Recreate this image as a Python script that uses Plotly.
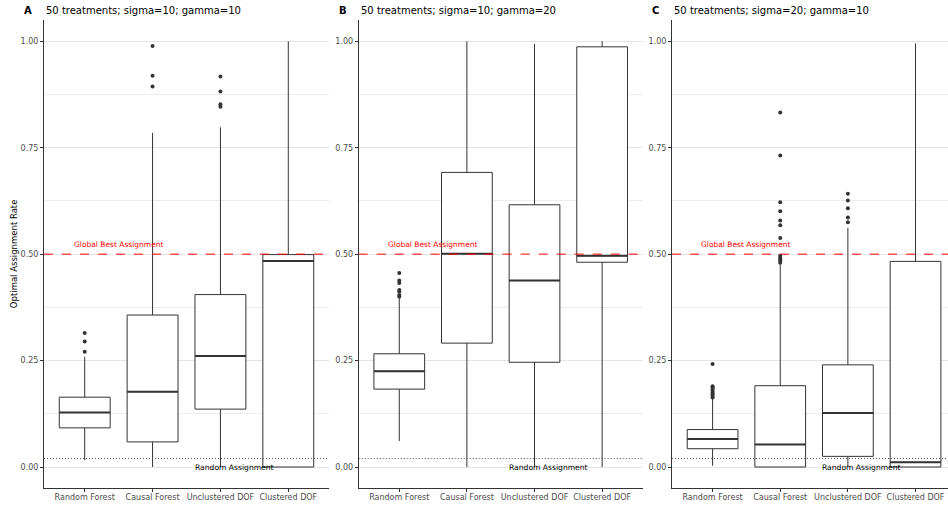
import plotly.graph_objects as go

categories = ["Random Forest", "Causal Forest", "Unclustered DOF", "Clustered DOF"]
panel_tags = ["A", "B", "C"]
panel_titles = [
    "50 treatments; sigma=10; gamma=10",
    "50 treatments; sigma=10; gamma=20",
    "50 treatments; sigma=20; gamma=10",
]
y_ticks = [0.0, 0.25, 0.5, 0.75, 1.0]
y_tick_labels = ["0.00", "0.25", "0.50", "0.75", "1.00"]

# Panel A: sigma=10, gamma=10
a_lower = [0.016, 0.0, 0.0, 0.0]
a_q1 = [0.092, 0.059, 0.136, 0.0]
a_median = [0.128, 0.177, 0.261, 0.484]
a_q3 = [0.164, 0.357, 0.405, 0.499]
a_upper = [0.259, 0.785, 0.798, 1.0]
a_outliers = [[0.271, 0.295, 0.315], [0.894, 0.919, 0.989], [0.846, 0.852, 0.882, 0.917], []]

# Panel B: sigma=10, gamma=20
b_lower = [0.061, 0.0, 0.0, 0.0]
b_q1 = [0.183, 0.291, 0.246, 0.481]
b_median = [0.225, 0.501, 0.438, 0.496]
b_q3 = [0.266, 0.692, 0.616, 0.987]
b_upper = [0.396, 1.0, 0.994, 1.0]
b_outliers = [[0.400, 0.404, 0.412, 0.416, 0.432, 0.438, 0.456], [], [], []]

# Panel C: sigma=20, gamma=10
c_lower = [0.003, 0.0, 0.0, 0.0]
c_q1 = [0.043, 0.0, 0.025, 0.0]
c_median = [0.066, 0.053, 0.127, 0.011]
c_q3 = [0.088, 0.191, 0.240, 0.483]
c_upper = [0.160, 0.476, 0.562, 0.995]
c_outliers = [
    [0.163, 0.167, 0.171, 0.175, 0.179, 0.183, 0.187, 0.190, 0.242],
    [0.480, 0.484, 0.488, 0.492, 0.496, 0.538, 0.568, 0.579, 0.601, 0.622, 0.732, 0.833],
    [0.575, 0.586, 0.608, 0.626, 0.642],
    [],
]

global_best = 0.5
random_assignment = 0.02

panels = [
    (a_lower, a_q1, a_median, a_q3, a_upper, a_outliers),
    (b_lower, b_q1, b_median, b_q3, b_upper, b_outliers),
    (c_lower, c_q1, c_median, c_q3, c_upper, c_outliers),
]

W, H = 948, 506
x_domains = [(44 / W, 329 / W), (358.7 / W, 642.7 / W), (672 / W, 1.0)]
x_ranges = [[0.4, 4.6], [0.4, 4.6], [0.4, 4.48]]
y_domain = [(H - 488.3) / H, (H - 20) / H]
BOX_W = 0.75
LINE = "#333333"
TICKFONT = dict(family="DejaVu Sans", size=8, color="#4d4d4d")

fig = go.Figure()
positions = [i + 1 for i in range(len(categories))]

for p, (lo, q1, med, q3, hi, outs) in enumerate(panels):
    sfx = "" if p == 0 else str(p + 1)
    xa, ya = "x" + sfx, "y" + sfx
    fig.add_trace(go.Box(
        x=positions, q1=q1, median=med, q3=q3, lowerfence=lo, upperfence=hi,
        width=BOX_W, whiskerwidth=0, boxpoints=False,
        line=dict(color=LINE, width=1), fillcolor="white",
        xaxis=xa, yaxis=ya, showlegend=False, hoverinfo="skip",
    ))
    mx, my = [], []
    for pos, m in zip(positions, med):
        mx += [pos - BOX_W / 2, pos + BOX_W / 2, None]
        my += [m, m, None]
    fig.add_trace(go.Scatter(
        x=mx, y=my, mode="lines", line=dict(color=LINE, width=2),
        xaxis=xa, yaxis=ya, showlegend=False, hoverinfo="skip",
    ))
    ox, oy = [], []
    for pos, vals in zip(positions, outs):
        ox += [pos] * len(vals)
        oy += vals
    fig.add_trace(go.Scatter(
        x=ox, y=oy, mode="markers", marker=dict(color=LINE, size=4),
        xaxis=xa, yaxis=ya, showlegend=False, hoverinfo="skip",
    ))

    fig.add_shape(type="line", xref=xa + " domain", yref=ya, x0=0, x1=1,
                  y0=global_best, y1=global_best,
                  line=dict(color="red", width=1, dash="dash"))
    fig.add_shape(type="line", xref=xa + " domain", yref=ya, x0=0, x1=1,
                  y0=random_assignment, y1=random_assignment,
                  line=dict(color="#555555", width=1, dash="1px,2px"))

    fig.add_annotation(x=1.5, y=0.522, xref=xa, yref=ya, text="Global Best Assignment",
                       showarrow=False, font=dict(family="DejaVu Sans", size=7.5, color="red"))
    fig.add_annotation(x=3.2, y=0.0, xref=xa, yref=ya, text="Random Assignment",
                       showarrow=False, font=dict(family="DejaVu Sans", size=7.6, color="black"))

    fig.add_annotation(x=(x_domains[p][0] * W - 22) / W, y=1 - 10.7 / H, xref="paper", yref="paper",
                       text="<b>" + panel_tags[p] + "</b>", showarrow=False,
                       xanchor="left", yanchor="middle",
                       font=dict(family="DejaVu Sans", size=10, color="black"))
    fig.add_annotation(x=x_domains[p][0], y=1 - 10.7 / H, xref="paper", yref="paper",
                       text=panel_titles[p], showarrow=False,
                       xanchor="left", yanchor="middle",
                       font=dict(family="DejaVu Sans", size=10, color="black"))

    xaxis = dict(
        domain=list(x_domains[p]), range=x_ranges[p], anchor=ya,
        tickmode="array", tickvals=positions, ticktext=categories,
        showgrid=False, zeroline=False, showline=True, linecolor=LINE, linewidth=1,
        ticks="outside", ticklen=3, tickcolor=LINE, tickfont=TICKFONT,
        ticklabelstandoff=-2,
    )
    yaxis = dict(
        domain=y_domain, range=[-0.05, 1.05], anchor=xa,
        tickmode="array", tickvals=y_ticks, ticktext=y_tick_labels,
        showgrid=True, gridcolor="#e4e4e4", gridwidth=1, zeroline=False,
        showline=True, linecolor=LINE, linewidth=1,
        ticks="outside", ticklen=3, tickcolor=LINE, tickfont=TICKFONT,
        minor=dict(tickvals=[0.125, 0.375, 0.625, 0.875], showgrid=True,
                   gridcolor="#ececec", gridwidth=1, ticks=""),
    )
    fig.update_layout(**{"xaxis" + sfx: xaxis, "yaxis" + sfx: yaxis})

fig.add_annotation(x=14 / W, y=(y_domain[0] + y_domain[1]) / 2, xref="paper", yref="paper",
                   text="Optimal Assignment Rate", textangle=-90, showarrow=False,
                   xanchor="center", yanchor="middle",
                   font=dict(family="DejaVu Sans", size=8.5, color="black"))

fig.update_layout(
    width=W, height=H, margin=dict(l=0, r=0, t=0, b=0),
    paper_bgcolor="white", plot_bgcolor="white",
    font=dict(family="DejaVu Sans"),
)

fig.write_html(
    "out.html",
    config={"displayModeBar": False, "staticPlot": True},
    post_script="document.body.style.margin='0';document.body.style.overflow='hidden';",
)
